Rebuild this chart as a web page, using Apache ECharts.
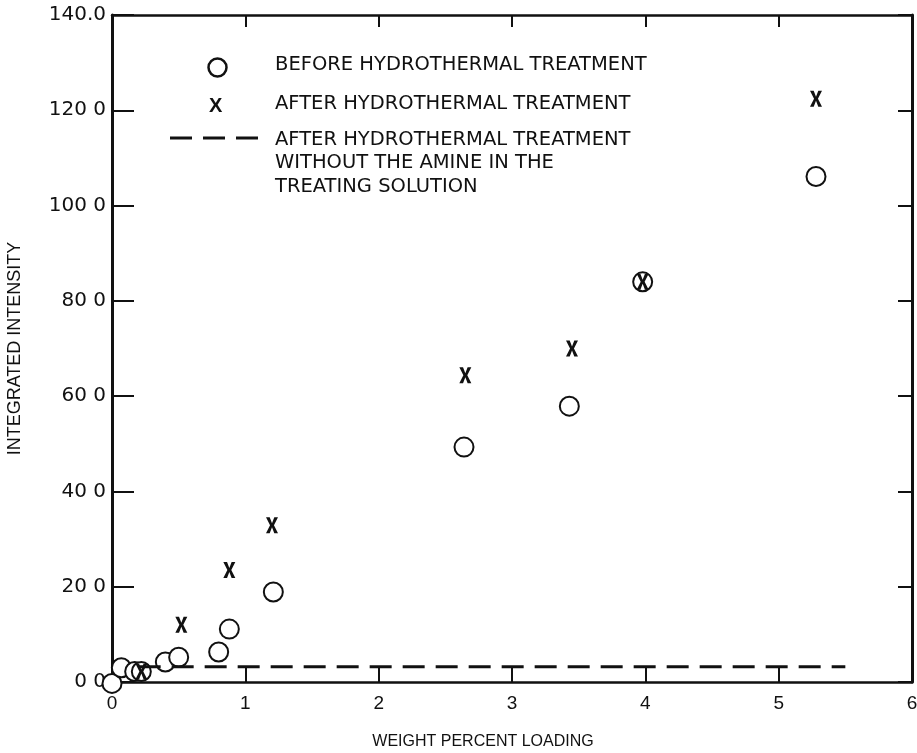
<!DOCTYPE html>
<html>
<head>
<meta charset="utf-8">
<script src="https://cdn.jsdelivr.net/npm/echarts@6/dist/echarts.min.js"></script>
<style>
  html, body { margin: 0; padding: 0; background: #fff; }
  #chart { width: 917px; height: 753px; }
</style>
</head>
<body>
<div id="chart"></div>
<script>
// data
var beforeX = [0, 0.07, 0.17, 0.22, 0.40, 0.50, 0.80, 0.88, 1.21, 2.64, 3.43, 3.98, 5.28];
var beforeY = [-0.3, 3.0, 2.2, 2.2, 4.2, 5.2, 6.3, 11.1, 18.9, 49.3, 57.9, 84.0, 106.1];
var afterX = [0.22, 0.52, 0.88, 1.20, 2.65, 3.45, 3.98, 5.28];
var afterY = [2.2, 12.0, 23.5, 32.9, 64.4, 70.0, 84.0, 122.4];
var noAmineX = [0.2, 5.5];
var noAmineY = [3.2, 3.2];
var xTickLabels = ['0', '1', '2', '3', '4', '5', '6'];
var yTickLabels = ['0 0', '20 0', '40 0', '60 0', '80 0', '100 0', '120 0', '140.0'];
var legendLabels = [
  'BEFORE HYDROTHERMAL TREATMENT',
  'AFTER HYDROTHERMAL TREATMENT',
  'AFTER HYDROTHERMAL TREATMENT\nWITHOUT THE AMINE IN THE\nTREATING SOLUTION'
];

function pairs(xs, ys) {
  var out = [];
  for (var i = 0; i < xs.length; i++) out.push([xs[i], ys[i]]);
  return out;
}

// letter-like X used for the "after" marks
var xPath = 'M0,0 L3.4,0 L5.5,6 L7.6,0 L11,0 L7.3,8 L11,16 L7.6,16 L5.5,10 L3.4,16 L0,16 L3.7,8 Z';

var font = 'DejaVu Sans, Liberation Sans, sans-serif';
var plain = 'Liberation Sans, Arial, sans-serif';
var chart = echarts.init(document.getElementById('chart'));

var option = {
  backgroundColor: '#fff',
  animation: false,
  grid: { left: 112, right: 5, top: 15, bottom: 71, outerBoundsMode: 'none', containLabel: false },
  xAxis: [{
    type: 'value', min: 0, max: 6, interval: 1, position: 'bottom',
    name: 'WEIGHT PERCENT LOADING', nameLocation: 'middle', nameGap: 52,
    nameTextStyle: { color: '#111', fontSize: 16, fontFamily: plain, padding: [0, 58, 0, 0] },
    axisLine: { onZero: false, lineStyle: { color: '#111', width: 2.5 } },
    axisTick: { inside: true, length: 16, lineStyle: { color: '#111', width: 2 } },
    axisLabel: {
      color: '#111', fontSize: 19, fontFamily: plain, margin: 12,
      formatter: function (v) { return xTickLabels[Math.round(v)]; }
    },
    splitLine: { show: false }
  }, {
    type: 'value', min: 0, max: 6, interval: 1, position: 'top',
    axisLine: { show: true, onZero: false, lineStyle: { color: '#111', width: 2.5 } },
    axisTick: { inside: true, length: 12, lineStyle: { color: '#111', width: 2 } },
    axisLabel: { show: false },
    splitLine: { show: false }
  }],
  yAxis: [{
    type: 'value', min: 0, max: 140, interval: 20, position: 'left',
    name: 'INTEGRATED INTENSITY', nameLocation: 'middle', nameGap: 88, nameRotate: 90,
    nameTextStyle: { color: '#111', fontSize: 18, fontFamily: plain },
    axisLine: { show: true, onZero: false, lineStyle: { color: '#111', width: 3 } },
    axisTick: { inside: true, length: 22, lineStyle: { color: '#111', width: 2 } },
    axisLabel: {
      color: '#111', fontSize: 20, fontFamily: font, margin: 6,
      formatter: function (v) { return yTickLabels[Math.round(v / 20)]; }
    },
    splitLine: { show: false }
  }, {
    type: 'value', min: 0, max: 140, interval: 20, position: 'right',
    axisLine: { show: true, onZero: false, lineStyle: { color: '#111', width: 3 } },
    axisTick: { inside: true, length: 14, lineStyle: { color: '#111', width: 2 } },
    axisLabel: { show: false },
    splitLine: { show: false }
  }],
  series: [{
    name: 'no amine', type: 'line', xAxisIndex: 0, yAxisIndex: 0,
    data: pairs(noAmineX, noAmineY), symbol: 'none',
    lineStyle: { color: '#111', width: 3, type: [22, 11] }
  }, {
    name: 'before', type: 'scatter', xAxisIndex: 0, yAxisIndex: 0, clip: false,
    data: pairs(beforeX, beforeY), symbol: 'emptyCircle', symbolSize: 19,
    itemStyle: { color: '#111', borderColor: '#111', borderWidth: 2.5, opacity: 1 }
  }, {
    name: 'after', type: 'scatter', xAxisIndex: 0, yAxisIndex: 0, clip: false,
    data: pairs(afterX, afterY), symbol: 'path://' + xPath, symbolSize: [12, 16],
    itemStyle: { color: '#111', opacity: 1 }
  }],
  graphic: [
    { type: 'circle', left: 206, top: 56, shape: { r: 9 },
      style: { fill: 'none', stroke: '#111', lineWidth: 2.5 } },
    { type: 'text', left: 209, top: 96,
      style: { text: 'X', fill: '#111', font: 'bold 20px ' + plain } },
    { type: 'line', shape: { x1: 170, y1: 138, x2: 258, y2: 138 },
      style: { stroke: '#111', lineWidth: 3, lineDash: [22, 11] } },
    { type: 'text', left: 275, top: 55,
      style: { text: legendLabels[0], fill: '#111', font: '19.5px ' + font } },
    { type: 'text', left: 275, top: 94,
      style: { text: legendLabels[1], fill: '#111', font: '19.5px ' + font } },
    { type: 'text', left: 275, top: 128,
      style: { text: legendLabels[2], fill: '#111', font: '19.5px ' + font, lineHeight: 23.5 } }
  ]
};

chart.setOption(option);
window.addEventListener('resize', function () { chart.resize(); });
</script>
</body>
</html>
